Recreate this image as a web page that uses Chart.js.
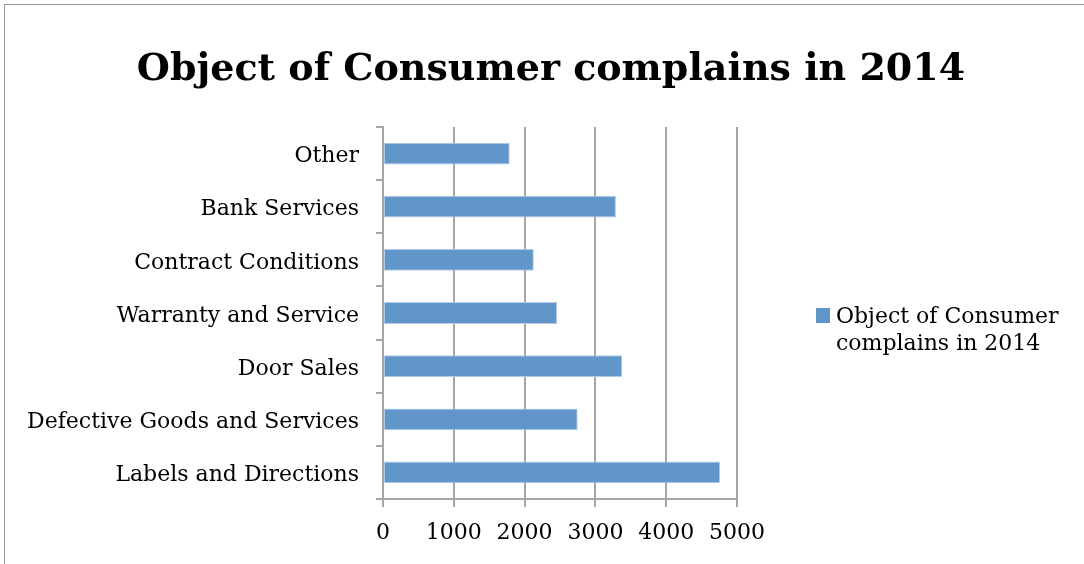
<!DOCTYPE html>
<html>
<head>
<meta charset="utf-8">
<script src="https://cdn.jsdelivr.net/npm/chart.js@4.4.1/dist/chart.umd.min.js"></script>
<style>
    html, body { margin: 0; padding: 0; background: #fff; overflow: hidden; }
    #frame {
        position: absolute; left: 4px; top: 4px;
        width: 1200px; height: 700px;
        border: 1px solid #9c9c9c;
    }
    #wrap { position: absolute; left: 0; top: 0; width: 1084px; height: 564px; }
</style>
</head>
<body>
<div id="frame"></div>
<div id="wrap"><canvas id="chart" width="1084" height="564"></canvas></div>
<script>
// Chart data, bottom category first (as in the spreadsheet)
const categories = [
    'Labels and Directions',
    'Defective Goods and Services',
    'Door Sales',
    'Warranty and Service',
    'Contract Conditions',
    'Bank Services',
    'Other'
];
const complaints = [4760, 2750, 3380, 2460, 2130, 3290, 1790];
const xTicks = [0, 1000, 2000, 3000, 4000, 5000];

const seriesLabel = 'Object of Consumer complains in 2014';
const titleText = 'Object of Consumer complains in 2014';
const legendLines = ['Object of Consumer', 'complains in 2014'];

const serif = '"DejaVu Serif", "Liberation Serif", serif';
const barColor = '#6096c9';
const gridColor = '#a6a6a6';

// Title and wrapped legend are painted by hand so they sit where the original has them
const headerPlugin = {
    id: 'header',
    afterDraw(chart) {
        const ctx = chart.ctx;
        ctx.save();
        ctx.fillStyle = '#000';
        ctx.textBaseline = 'alphabetic';

        ctx.font = 'bold 38px ' + serif;
        ctx.textAlign = 'center';
        ctx.fillText(titleText, 551, 80);

        const color = chart.data.datasets[0].backgroundColor;
        ctx.fillStyle = color;
        ctx.fillRect(816, 308, 14, 15);

        ctx.fillStyle = '#000';
        ctx.font = '22px ' + serif;
        ctx.textAlign = 'left';
        legendLines.forEach((line, i) => {
            ctx.fillText(line, 836, 323 + i * 27);
        });
        ctx.restore();
    }
};

const ctx = document.getElementById('chart').getContext('2d');
new Chart(ctx, {
    type: 'bar',
    data: {
        labels: categories,
        datasets: [{
            label: seriesLabel,
            data: complaints,
            backgroundColor: barColor,
            borderColor: '#b3cbe6',
            borderWidth: 1,
            borderSkipped: false,
            categoryPercentage: 1,
            barPercentage: 0.41
        }]
    },
    options: {
        indexAxis: 'y',
        responsive: false,
        animation: false,
        layout: {
            padding: { left: 10, right: 347, top: 127, bottom: 0 }
        },
        scales: {
            x: {
                min: 0,
                max: 5000,
                afterBuildTicks: scale => {
                    scale.ticks = xTicks.map(v => ({ value: v }));
                },
                afterFit: scale => { scale.height = 65; },
                grid: {
                    color: gridColor,
                    lineWidth: 2,
                    tickLength: 8
                },
                border: { color: gridColor, width: 2 },
                ticks: {
                    color: '#000',
                    padding: 13,
                    font: { family: serif, size: 22 },
                    callback: value => String(value)
                }
            },
            y: {
                reverse: true,
                afterFit: scale => { scale.width = 373; },
                grid: {
                    drawOnChartArea: false,
                    color: gridColor,
                    lineWidth: 2,
                    tickLength: 7
                },
                border: { color: gridColor, width: 2 },
                ticks: {
                    color: '#000',
                    padding: 17,
                    labelOffset: 3,
                    font: { family: serif, size: 22 }
                }
            }
        },
        plugins: {
            legend: { display: false },
            title: { display: false },
            tooltip: { enabled: false }
        }
    },
    plugins: [headerPlugin]
});
</script>
</body>
</html>
